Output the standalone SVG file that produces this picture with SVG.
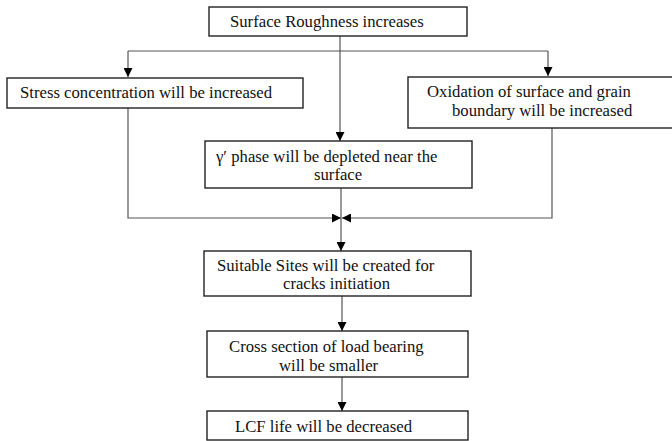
<svg xmlns="http://www.w3.org/2000/svg" width="672" height="441" viewBox="0 0 672 441">
<style>
.box{fill:#fff;stroke:#222;stroke-width:1.4}
.t{font-family:"Liberation Serif",serif;font-size:16.7px;fill:#111}
.c{fill:none;stroke:#555;stroke-width:1.2}
</style>
<defs>
<marker id="ah" viewBox="0 0 10 10" refX="10" refY="5" markerWidth="9" markerHeight="9" markerUnits="userSpaceOnUse" orient="auto">
<path d="M0,0 L10,5 L0,10 Z" fill="#000"/>
</marker>
</defs>
<rect width="672" height="441" fill="#fff"/>
<g id="connectors">
<path class="c" d="M340,36 V141" marker-end="url(#ah)"/>
<path class="c" d="M128,51 H548"/>
<path class="c" d="M128,51 V77" marker-end="url(#ah)"/>
<path class="c" d="M548,51 V76" marker-end="url(#ah)"/>
<path class="c" d="M128,108 V218 H341" marker-end="url(#ah)"/>
<path class="c" d="M552,128 V218 H342" marker-end="url(#ah)"/>
<path class="c" d="M341,188 V251" marker-end="url(#ah)"/>
<path class="c" d="M342,296 V331" marker-end="url(#ah)"/>
<path class="c" d="M342,377 V411" marker-end="url(#ah)"/>
</g>
<g id="n1">
<rect class="box" x="209" y="7" width="258" height="29"/>
<text class="t" x="230" y="27">Surface Roughness increases</text>
</g>
<g id="n2">
<rect class="box" x="7" y="78" width="296" height="30"/>
<text class="t" x="20" y="98">Stress concentration will be increased</text>
</g>
<g id="n3">
<rect class="box" x="408" y="77" width="270" height="51"/>
<text class="t" x="427" y="97">Oxidation of surface and grain</text>
<text class="t" x="452" y="116">boundary will be increased</text>
</g>
<g id="n4">
<rect class="box" x="205" y="141" width="267" height="47"/>
<text class="t" x="216" y="162">γ′ phase will be depleted near the</text>
<text class="t" x="314" y="180">surface</text>
</g>
<g id="n5">
<rect class="box" x="204" y="251" width="267" height="45"/>
<text class="t" x="217" y="271">Suitable Sites will be created for</text>
<text class="t" x="283" y="289">cracks initiation</text>
</g>
<g id="n6">
<rect class="box" x="207" y="331" width="261" height="46"/>
<text class="t" x="229" y="352">Cross section of load bearing</text>
<text class="t" x="279" y="371">will be smaller</text>
</g>
<g id="n7">
<rect class="box" x="207" y="411" width="261" height="29"/>
<text class="t" x="235" y="432">LCF life will be decreased</text>
</g>
</svg>
